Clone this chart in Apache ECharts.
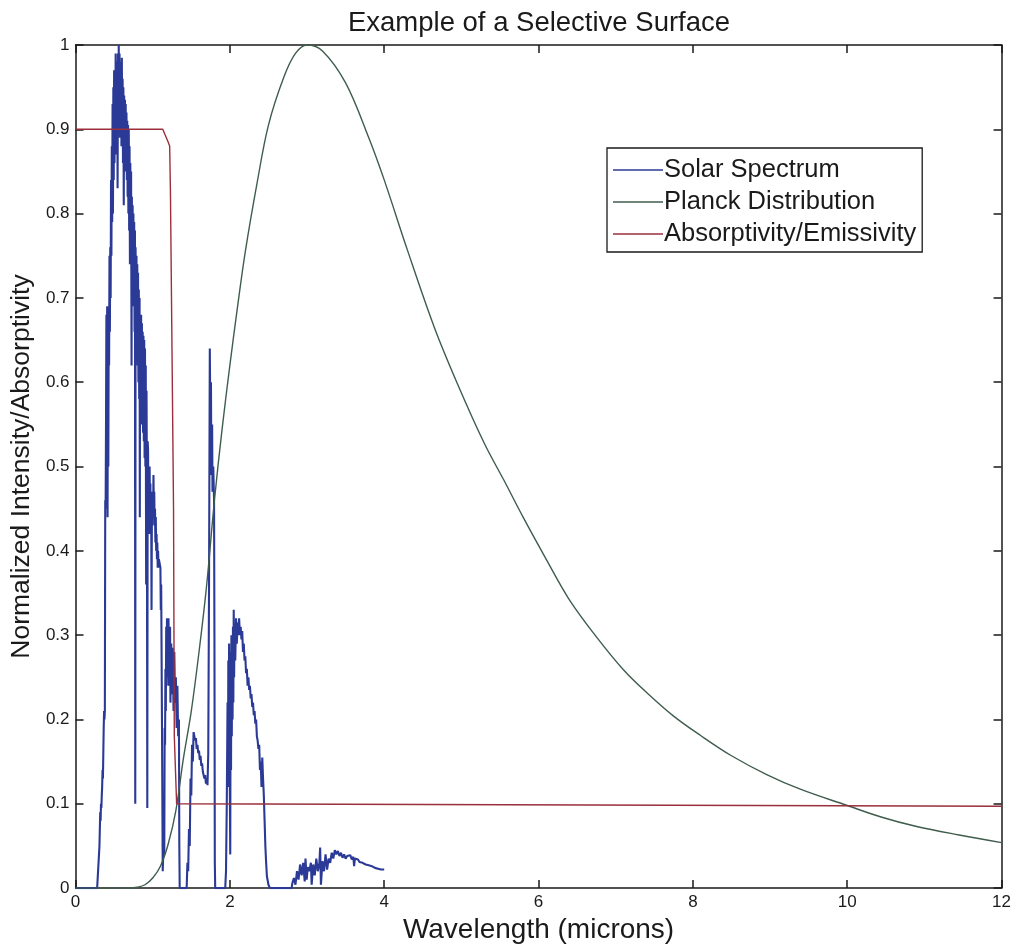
<!DOCTYPE html>
<html>
<head>
<meta charset="utf-8">
<title>Example of a Selective Surface</title>
<script src="https://cdn.jsdelivr.net/npm/echarts/dist/echarts.min.js"></script>
<style>
  html, body { margin: 0; padding: 0; background: #fff; }
  #chart { width: 1014px; height: 949px; }
</style>
</head>
<body>
<div id="chart"></div>
<script>
// values
const xTicks = [0, 2, 4, 6, 8, 10, 12]
const yTicks = [0, 0.1, 0.2, 0.3, 0.4, 0.5, 0.6, 0.7, 0.8, 0.9, 1]
const seriesNames = ['Solar Spectrum', 'Planck Distribution', 'Absorptivity/Emissivity']

const solarWavelength = [
  0, 0.28, 0.30, 0.31, 0.315, 0.32, 0.325, 0.33, 0.335, 0.34, 0.345, 0.35, 0.355, 0.36, 0.365, 0.37, 0.375,
  0.38, 0.385, 0.39, 0.395,
  0.400, 0.405, 0.410, 0.415, 0.420, 0.425, 0.430, 0.435, 0.440, 0.445, 0.450, 0.455, 0.460, 0.465, 0.470,
  0.475, 0.480, 0.485, 0.490, 0.495, 0.500, 0.505, 0.510, 0.515, 0.520, 0.525, 0.530, 0.535, 0.540, 0.545,
  0.550, 0.555, 0.560, 0.565, 0.570, 0.575, 0.580, 0.585, 0.590, 0.595, 0.600, 0.605, 0.610, 0.615, 0.620,
  0.625, 0.630, 0.635, 0.640, 0.645, 0.650, 0.655, 0.660, 0.665, 0.670, 0.675, 0.680, 0.685, 0.690, 0.695,
  0.700, 0.705, 0.710, 0.715, 0.720, 0.726, 0.730, 0.735, 0.740, 0.745, 0.750, 0.755, 0.760, 0.765, 0.770,
  0.774, 0.778, 0.785, 0.790, 0.795, 0.800, 0.805, 0.810, 0.815, 0.820, 0.825, 0.830, 0.833, 0.837, 0.845,
  0.850, 0.855, 0.860, 0.865, 0.870, 0.875, 0.880, 0.885, 0.890, 0.895, 0.900, 0.905, 0.910, 0.915, 0.920,
  0.925, 0.930, 0.935, 0.940, 0.945, 0.950, 0.955, 0.960, 0.965, 0.970, 0.975, 0.980, 0.985, 0.990, 0.995,
  1.000, 1.005, 1.010, 1.015, 1.020, 1.025, 1.030, 1.035, 1.040, 1.045, 1.050, 1.055, 1.060, 1.065, 1.070,
  1.075, 1.080, 1.090, 1.100, 1.105, 1.110, 1.120, 1.130, 1.140, 1.150, 1.155, 1.160, 1.165, 1.170, 1.175,
  1.180, 1.185, 1.190, 1.195, 1.200, 1.205, 1.210, 1.215, 1.220, 1.225, 1.230, 1.240, 1.250, 1.260, 1.270,
  1.280, 1.290, 1.300, 1.310, 1.320, 1.330, 1.340, 1.345, 1.350, 1.440, 1.450, 1.460, 1.470, 1.480, 1.490,
  1.500, 1.510, 1.520, 1.530, 1.540, 1.550, 1.560, 1.570, 1.580, 1.590, 1.600, 1.610, 1.620, 1.630, 1.640,
  1.650, 1.660, 1.670, 1.680, 1.690, 1.700, 1.710, 1.720, 1.730, 1.740, 1.750, 1.755, 1.760, 1.770, 1.775,
  1.785, 1.795, 1.800, 1.805, 1.810, 1.940, 1.950, 1.960, 1.970, 1.975, 1.980, 1.985, 1.990, 1.995, 2.005,
  2.010, 2.015, 2.020, 2.025, 2.030, 2.035, 2.040, 2.045, 2.050, 2.055, 2.060, 2.070, 2.080, 2.090, 2.100,
  2.110, 2.120, 2.130, 2.140, 2.150, 2.160, 2.170, 2.180, 2.190, 2.200, 2.210, 2.220, 2.230, 2.240, 2.250,
  2.260, 2.270, 2.280, 2.290, 2.300, 2.310, 2.320, 2.330, 2.340, 2.350, 2.360, 2.370, 2.380, 2.390, 2.400,
  2.410, 2.420, 2.430, 2.440, 2.450, 2.460, 2.470, 2.480, 2.500, 2.520, 2.800, 2.810, 2.830, 2.850, 2.870,
  2.890, 2.910, 2.930, 2.950, 2.970, 2.980, 2.995, 3.010, 3.030, 3.050, 3.060, 3.080, 3.100, 3.120, 3.140,
  3.160, 3.170, 3.180, 3.200, 3.220, 3.240, 3.260, 3.280, 3.300, 3.320, 3.340, 3.360, 3.380, 3.400, 3.420,
  3.440, 3.460, 3.480, 3.500, 3.520, 3.540, 3.560, 3.580, 3.600, 3.610, 3.620, 3.640, 3.660, 3.680, 3.700,
  3.720, 3.740, 3.760, 3.780, 3.800, 3.820, 3.840, 3.860, 3.880, 3.900, 3.920, 3.940, 3.960, 3.980, 4.000
]
const solarIntensity = [
  0, 0, 0.002, 0.05, 0.07, 0.09, 0.08, 0.10, 0.095, 0.11, 0.12, 0.14, 0.13, 0.16, 0.19, 0.21, 0.20,
  0.21, 0.46, 0.45, 0.55,
  0.68, 0.55, 0.69, 0.44, 0.66, 0.50, 0.67, 0.62, 0.75, 0.66, 0.76, 0.70, 0.84, 0.75, 0.88,
  0.79, 0.93, 0.80, 0.95, 0.84, 0.97, 0.86, 0.96, 0.88, 0.99, 0.87, 0.97, 0.90, 0.98, 0.83,
  0.99, 0.91, 1.00, 0.92, 0.99, 0.89, 0.97, 0.90, 0.98, 0.88, 0.985, 0.89, 0.96, 0.86, 0.95,
  0.81, 0.94, 0.87, 0.935, 0.85, 0.93, 0.86, 0.92, 0.84, 0.91, 0.82, 0.905, 0.80, 0.90, 0.78,
  0.88, 0.74, 0.86, 0.76, 0.85, 0.62, 0.82, 0.72, 0.81, 0.70, 0.80, 0.69, 0.79, 0.66, 0.78,
  0.10, 0.76, 0.67, 0.75, 0.64, 0.74, 0.62, 0.73, 0.60, 0.71, 0.58, 0.70, 0.44, 0.68, 0.57,
  0.68, 0.55, 0.67, 0.56, 0.66, 0.54, 0.655, 0.53, 0.65, 0.51, 0.64, 0.50, 0.62, 0.36, 0.59,
  0.48, 0.095, 0.53, 0.52, 0.44, 0.49, 0.42, 0.50, 0.45, 0.48, 0.42, 0.47, 0.33, 0.46, 0.43,
  0.47, 0.44, 0.49, 0.45, 0.47, 0.43, 0.45, 0.41, 0.44, 0.40, 0.42, 0.39, 0.41, 0.38, 0.40,
  0.38, 0.39, 0.385, 0.38, 0.33, 0.36, 0.20, 0.02, 0.05, 0.04, 0.19, 0.17, 0.26, 0.21, 0.31,
  0.24, 0.32, 0.26, 0.31, 0.25, 0.32, 0.24, 0.30, 0.26, 0.31, 0.22, 0.29, 0.23, 0.285, 0.21,
  0.28, 0.22, 0.25, 0.19, 0.24, 0.18, 0.20, 0.05, 0, 0, 0.03, 0.02, 0.07, 0.05, 0.13,
  0.11, 0.17, 0.15, 0.185, 0.18, 0.175, 0.178, 0.165, 0.17, 0.16, 0.163, 0.152, 0.157, 0.145, 0.148,
  0.138, 0.14, 0.13, 0.134, 0.124, 0.13, 0.122, 0.16, 0.36, 0.64, 0.52, 0.60, 0.49, 0.55, 0.47,
  0.50, 0.46, 0.30, 0.03, 0, 0, 0.02, 0.10, 0.22, 0.12, 0.27, 0.15, 0.29, 0.18, 0.04,
  0.28, 0.14, 0.30, 0.18, 0.29, 0.20, 0.31, 0.22, 0.33, 0.25, 0.30, 0.27, 0.32, 0.29, 0.315,
  0.30, 0.32, 0.30, 0.31, 0.295, 0.305, 0.28, 0.29, 0.27, 0.275, 0.255, 0.26, 0.24, 0.25, 0.235,
  0.24, 0.225, 0.23, 0.215, 0.22, 0.205, 0.21, 0.195, 0.20, 0.18, 0.175, 0.165, 0.17, 0.14, 0.15,
  0.12, 0.155, 0.13, 0.11, 0.08, 0.05, 0.03, 0.014, 0.004, 0, 0, 0.006, 0.012, 0.004, 0.02,
  0.01, 0.028, 0.015, 0.03, 0.008, 0.035, 0.01, 0.025, 0.02, 0.03, 0.004, 0.028, 0.015, 0.035, 0.02,
  0.03, 0.048, 0.004, 0.032, 0.02, 0.04, 0.022, 0.035, 0.03, 0.042, 0.035, 0.045, 0.04, 0.044, 0.038,
  0.042, 0.036, 0.04, 0.035, 0.038, 0.036, 0.039, 0.034, 0.037, 0.026, 0.035, 0.033, 0.034, 0.031, 0.032,
  0.03, 0.031, 0.028, 0.03, 0.027, 0.028, 0.026, 0.027, 0.024, 0.026, 0.023, 0.025, 0.022, 0.023, 0.022
]

const planckWavelength = [
  0, 0.7, 0.8, 0.9, 1.0, 1.1, 1.2, 1.3, 1.4, 1.5, 1.6, 1.7, 1.8, 1.9, 2.0, 2.1, 2.2, 2.35, 2.5, 2.7, 2.85,
  3.0, 3.2, 3.5, 3.8, 4.0, 4.3, 4.65, 4.95, 5.3, 5.55, 5.8, 6.1, 6.4, 6.75, 7.1, 7.4, 7.75, 8.1, 8.5,
  8.95, 9.4, 10.0, 10.45, 10.9, 11.45, 12.0
]
const planckIntensity = [
  0, 0, 0.001, 0.004, 0.012, 0.026, 0.052, 0.092, 0.155, 0.21, 0.28, 0.36, 0.46, 0.545, 0.62, 0.69, 0.755,
  0.835, 0.905, 0.962, 0.99, 1.0, 0.993, 0.955, 0.89, 0.84, 0.757, 0.665, 0.598, 0.527, 0.484, 0.44, 0.39,
  0.342, 0.298, 0.259, 0.232, 0.204, 0.181, 0.157, 0.135, 0.117, 0.098, 0.084, 0.073, 0.063, 0.054
]

const absorbWavelength = [0, 1.13, 1.20, 1.22, 1.23, 1.25, 1.27, 1.28, 1.31, 12]
const absorbValue = [0.9, 0.9, 0.885, 0.88, 0.825, 0.64, 0.45, 0.18, 0.1, 0.097]

const pairs = (xs, ys) => xs.map((x, i) => [x, ys[i]])

const font = 'Liberation Sans, Arial, Helvetica, sans-serif'
const ink = '#1a1a1a'

function axisBase (extra) {
  return Object.assign({
    type: 'value',
    axisLine: { show: true, onZero: false, lineStyle: { color: ink, width: 1.5 } },
    axisTick: { show: true, inside: true, length: 8, lineStyle: { color: ink, width: 1.5 } },
    splitLine: { show: false },
  }, extra)
}

const chart = echarts.init(document.getElementById('chart'))
chart.setOption({
  animation: false,
  backgroundColor: '#fff',
  title: {
    text: 'Example of a Selective Surface',
    left: 534,
    textAlign: 'center',
    top: 4,
    textStyle: { fontFamily: font, fontSize: 27.5, fontWeight: 'normal', color: ink },
  },
  legend: {
    orient: 'vertical',
    left: 607,
    top: 148,
    data: seriesNames,
    icon: 'rect',
    itemWidth: 50,
    itemHeight: 1.5,
    itemGap: 6,
    padding: [9, 6, 5, 6],
    borderColor: ink,
    borderWidth: 1.3,
    backgroundColor: '#fff',
    textStyle: { fontFamily: font, fontSize: 25.5, color: ink, padding: [0, 0, 0, -4] },
  },
  grid: { left: 72, right: 11, top: 45, bottom: 58, containLabel: false },
  xAxis: [
    axisBase({
      min: xTicks[0],
      max: xTicks[xTicks.length - 1],
      interval: 2,
      position: 'bottom',
      axisLabel: { fontFamily: font, fontSize: 17, color: ink, margin: 6 },
      name: 'Wavelength (microns)',
      nameLocation: 'middle',
      nameGap: 24,
      nameTextStyle: { fontFamily: font, fontSize: 28, color: ink, verticalAlign: 'top' },
    }),
    axisBase({
      min: xTicks[0],
      max: xTicks[xTicks.length - 1],
      interval: 2,
      position: 'top',
      axisLabel: { show: false },
    }),
  ],
  yAxis: [
    axisBase({
      min: yTicks[0],
      max: yTicks[yTicks.length - 1],
      interval: 0.1,
      position: 'left',
      axisLabel: {
        fontFamily: font, fontSize: 17, color: ink, margin: 6,
        formatter: v => (v === 0 || v === 1) ? String(v) : v.toFixed(1),
      },
      name: 'Normalized Intensity/Absorptivity',
      nameLocation: 'middle',
      nameGap: 37,
      nameTextStyle: { fontFamily: font, fontSize: 26.5, color: ink },
    }),
    axisBase({
      min: yTicks[0],
      max: yTicks[yTicks.length - 1],
      interval: 0.1,
      position: 'right',
      axisLabel: { show: false },
    }),
  ],
  series: [
    {
      name: seriesNames[0],
      type: 'line',
      data: pairs(solarWavelength, solarIntensity),
      symbol: 'none',
      color: '#2b3a96',
      lineStyle: { color: '#2b3a96', width: 2.1 },
      z: 2,
    },
    {
      name: seriesNames[1],
      type: 'line',
      data: pairs(planckWavelength, planckIntensity),
      symbol: 'none',
      smooth: 0.35,
      color: '#3f5d4c',
      lineStyle: { color: '#3f5d4c', width: 1.4 },
      z: 3,
    },
    {
      name: seriesNames[2],
      type: 'line',
      data: pairs(absorbWavelength, absorbValue),
      symbol: 'none',
      color: '#9b2f3c',
      lineStyle: { color: '#9b2f3c', width: 1.4 },
      z: 4,
    },
  ],
})
</script>
</body>
</html>
